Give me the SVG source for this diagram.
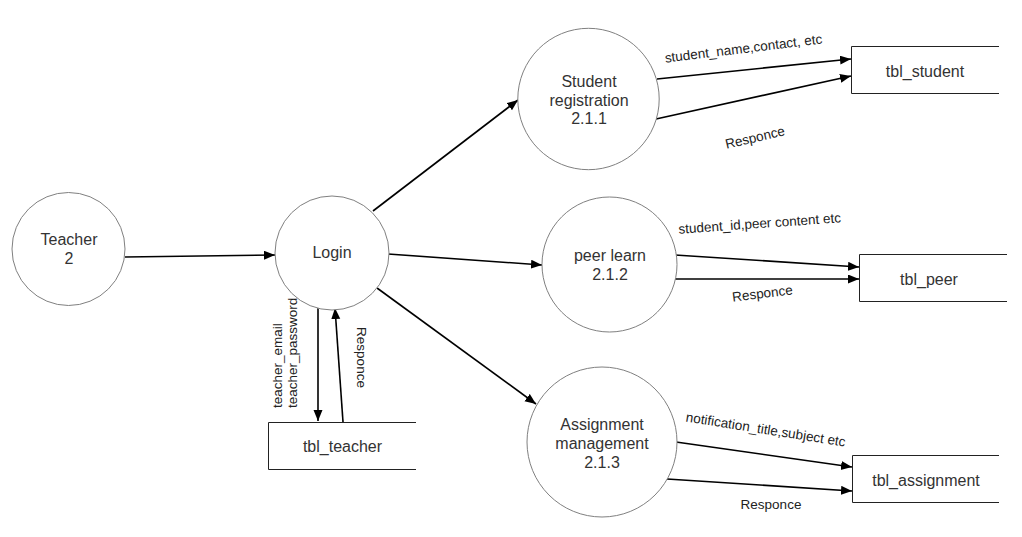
<svg xmlns="http://www.w3.org/2000/svg" width="1022" height="537" viewBox="0 0 1022 537">
<style>
.proc{fill:#fff;stroke:#808080;stroke-width:1}
.store{fill:none;stroke:#222;stroke-width:1}
.nt{font-family:"Liberation Sans",Arial,sans-serif;font-size:16px;fill:#333;text-anchor:middle}
.lbl{font-family:"Liberation Sans",Arial,sans-serif;font-size:13.5px;fill:#222}
.edge{fill:none;stroke:#000;stroke-width:1.6}
</style>
<defs>
<marker id="arr" markerUnits="userSpaceOnUse" markerWidth="12" markerHeight="10" refX="11" refY="4.5" orient="auto">
<path d="M0,0 L11,4.5 L0,9 z" fill="#000"/>
</marker>
</defs>
<rect width="1022" height="537" fill="#fff"/>
<g id="connectors">
<line class="edge" x1="125" y1="257" x2="275" y2="255" marker-end="url(#arr)"/>
<line class="edge" x1="373" y1="211" x2="518" y2="100" marker-end="url(#arr)"/>
<line class="edge" x1="388" y1="254" x2="542" y2="265" marker-end="url(#arr)"/>
<line class="edge" x1="377" y1="288" x2="536" y2="404" marker-end="url(#arr)"/>
<line class="edge" x1="318" y1="308" x2="318" y2="421" marker-end="url(#arr)"/>
<line class="edge" x1="343" y1="422" x2="335" y2="308" marker-end="url(#arr)"/>
<line class="edge" x1="657" y1="79" x2="851" y2="59" marker-end="url(#arr)"/>
<line class="edge" x1="656" y1="119" x2="851" y2="76" marker-end="url(#arr)"/>
<line class="edge" x1="675" y1="255" x2="859" y2="267" marker-end="url(#arr)"/>
<line class="edge" x1="675" y1="279" x2="859" y2="279" marker-end="url(#arr)"/>
<line class="edge" x1="676" y1="442" x2="852" y2="467" marker-end="url(#arr)"/>
<line class="edge" x1="667" y1="479" x2="852" y2="491" marker-end="url(#arr)"/>
<text class="lbl" transform="translate(282,408) rotate(-90)">teacher_email</text>
<text class="lbl" transform="translate(297,408) rotate(-90)">teacher_password</text>
<text class="lbl" text-anchor="middle" transform="translate(357,357.5) rotate(90)">Responce</text>
<text class="lbl" text-anchor="middle" transform="translate(744,53) rotate(-7)">student_name,contact, etc</text>
<text class="lbl" text-anchor="middle" transform="translate(756,142) rotate(-13)">Responce</text>
<text class="lbl" text-anchor="middle" transform="translate(760,228) rotate(-4)">student_id,peer content etc</text>
<text class="lbl" text-anchor="middle" transform="translate(763,298) rotate(-7)">Responce</text>
<text class="lbl" text-anchor="middle" transform="translate(765,434) rotate(9)">notification_title,subject etc</text>
<text class="lbl" text-anchor="middle" x="771" y="509">Responce</text>
</g>
<g id="teacher">
<circle class="proc" cx="68.5" cy="249" r="56.5"/>
<text class="nt" x="69" y="245">Teacher</text>
<text class="nt" x="69" y="264">2</text>
</g>
<g id="login">
<circle class="proc" cx="332" cy="253" r="57"/>
<text class="nt" x="332" y="258">Login</text>
</g>
<g id="student_registration">
<circle class="proc" cx="588.5" cy="99" r="70.7"/>
<text class="nt" x="589" y="87">Student</text>
<text class="nt" x="589" y="105.5">registration</text>
<text class="nt" x="589" y="124">2.1.1</text>
</g>
<g id="peer_learn">
<circle class="proc" cx="609.5" cy="264.5" r="67.5"/>
<text class="nt" x="610" y="261">peer learn</text>
<text class="nt" x="610" y="280">2.1.2</text>
</g>
<g id="assignment_management">
<circle class="proc" cx="602" cy="442" r="75"/>
<text class="nt" x="602" y="429.5">Assignment</text>
<text class="nt" x="602" y="448.5">management</text>
<text class="nt" x="602" y="467.5">2.1.3</text>
</g>
<g id="tbl_student">
<path class="store" d="M999,46.5 H851.5 V93.5 H999"/>
<text class="nt" x="925" y="77">tbl_student</text>
</g>
<g id="tbl_peer">
<path class="store" d="M1007,254.5 H859.5 V301.5 H1007"/>
<text class="nt" x="929" y="285">tbl_peer</text>
</g>
<g id="tbl_assignment">
<path class="store" d="M999,455.5 H852.5 V502.5 H999"/>
<text class="nt" x="926" y="485.5">tbl_assignment</text>
</g>
<g id="tbl_teacher">
<path class="store" d="M416,422.5 H268.5 V469.5 H416"/>
<text class="nt" x="342.5" y="451.5">tbl_teacher</text>
</g>
</svg>
